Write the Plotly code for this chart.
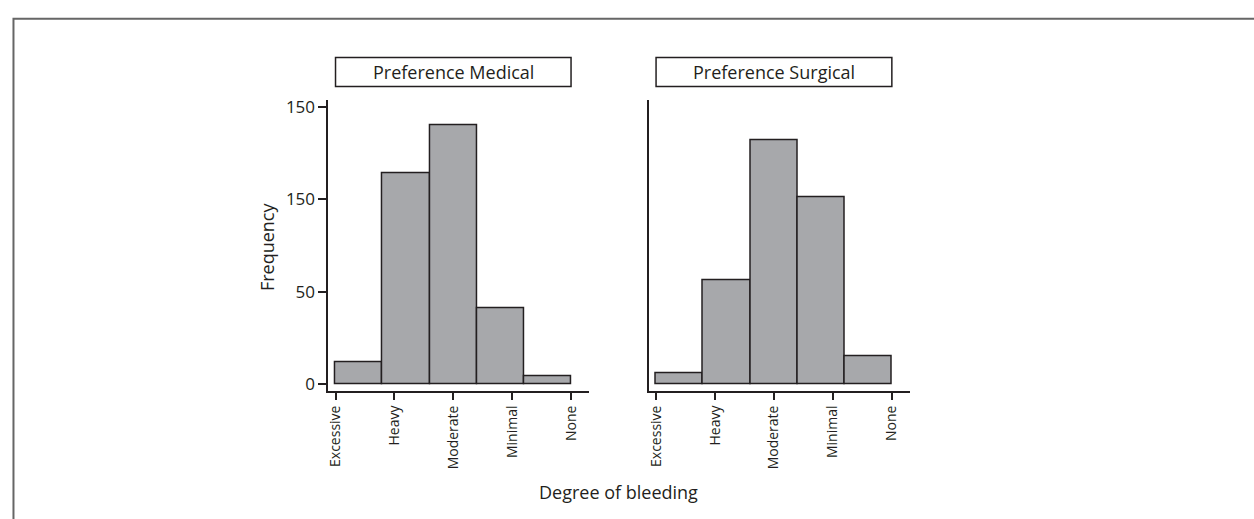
import numpy as np
import plotly.graph_objects as go

# Bleeding categories (coded 1..5 on the x axis)
categories = ["Excessive", "Heavy", "Moderate", "Minimal", "None"]
medical_counts = [12, 114, 140, 41, 4]
surgical_counts = [6, 56, 132, 101, 15]
panel_titles = ["Preference Medical", "Preference Surgical"]
y_tick_values = [0, 50, 100, 150]
y_tick_labels = ["0", "50", "150", "150"]

FONT = "Open Sans"
INK = "#231f20"
BAR_FILL = "#a7a8ab"

W, H = 1254, 519

# Histogram bins spanning the coded categories 1..5
codes = np.arange(1, len(categories) + 1)
edges = np.linspace(codes[0], codes[-1], len(categories) + 1)
bin_left = edges[:-1]
bin_width = np.diff(edges)


def px_x(p):
    return p / W


def px_y(p):
    return 1 - p / H


fig = go.Figure()

for i, counts in enumerate([medical_counts, surgical_counts]):
    suffix = "" if i == 0 else "2"
    fig.add_trace(go.Bar(
        x=bin_left, y=counts, width=bin_width, offset=0,
        marker=dict(color=BAR_FILL, line=dict(color=INK, width=1.5)),
        xaxis="x" + suffix, yaxis="y" + suffix,
        showlegend=False, hoverinfo="y",
    ))

x_range = [0.876, 5.31]
y_range = [-3.9, 153.6]
y_dom = [px_y(393), px_y(97)]

axis_common = dict(
    showgrid=False, zeroline=False, showline=True,
    linecolor=INK, linewidth=1.5,
)
xaxis_common = dict(
    axis_common, range=x_range, tickmode="array", tickvals=list(codes),
    ticktext=categories, ticks="outside", ticklen=7, tickwidth=1.5,
    tickcolor=INK, tickangle=-90,
    tickfont=dict(family=FONT, size=14, color=INK),
)

fig.update_layout(
    width=W, height=H,
    margin=dict(l=0, r=0, t=0, b=0),
    paper_bgcolor="white", plot_bgcolor="white",
    bargap=0,
    xaxis=dict(xaxis_common, domain=[px_x(326), px_x(587.7)], anchor="y"),
    xaxis2=dict(xaxis_common, domain=[px_x(647.3), px_x(909.3)], anchor="y2"),
    yaxis=dict(
        axis_common, domain=y_dom, range=y_range, anchor="x",
        tickmode="array", tickvals=y_tick_values, ticktext=y_tick_labels,
        ticks="outside", ticklen=8, tickwidth=1.5, tickcolor=INK,
        tickfont=dict(family=FONT, size=17, color=INK),
    ),
    yaxis2=dict(
        axis_common, domain=y_dom, range=y_range, anchor="x2",
        showticklabels=False, ticks="",
    ),
)

shapes = [
    # outer frame (open at the right and bottom edges)
    dict(type="rect", xref="paper", yref="paper",
         x0=px_x(10.5), x1=1.05, y0=-0.05, y1=px_y(14),
         line=dict(color="#666666", width=2)),
]
annotations = []
for i, title in enumerate(panel_titles):
    xref = "x" if i == 0 else "x2"
    shapes.append(dict(
        type="rect", xref=xref, yref="paper",
        x0=codes[0], x1=codes[-1], y0=px_y(83), y1=px_y(53.3),
        line=dict(color=INK, width=1.5), fillcolor="white",
    ))
    annotations.append(dict(
        text=title, xref=xref, yref="paper",
        x=(codes[0] + codes[-1]) / 2, y=px_y(68.2),
        showarrow=False, xanchor="center", yanchor="middle",
        font=dict(family=FONT, size=18, color=INK),
    ))

annotations.append(dict(
    text="Frequency", xref="paper", yref="paper",
    x=px_x(264), y=px_y(246), textangle=-90, showarrow=False,
    xanchor="center", yanchor="middle",
    font=dict(family=FONT, size=18, color=INK),
))
annotations.append(dict(
    text="Degree of bleeding", xref="paper", yref="paper",
    x=px_x(617), y=px_y(496), showarrow=False,
    xanchor="center", yanchor="middle",
    font=dict(family=FONT, size=18, color=INK),
))

fig.update_layout(shapes=shapes, annotations=annotations)

fig.write_html("out.html")
